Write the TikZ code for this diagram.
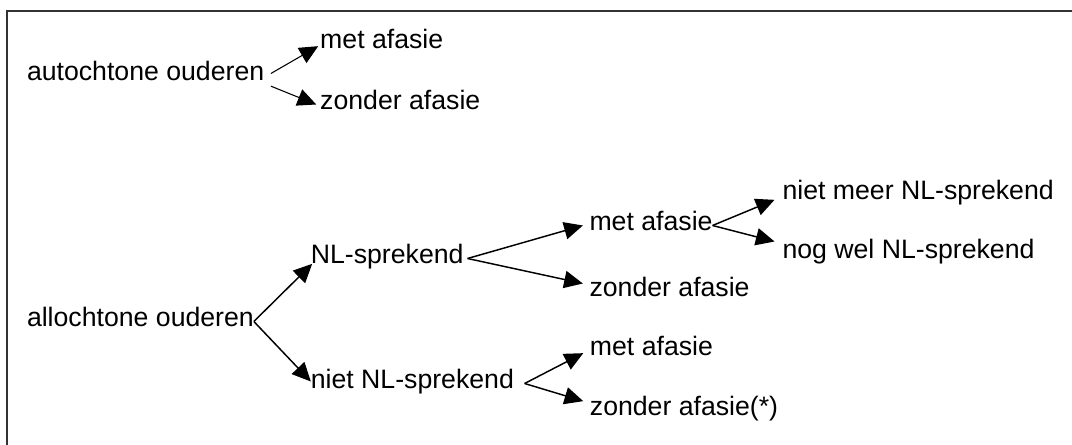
\documentclass[tikz,border=0pt]{standalone}
\usepackage{fontspec}
\setmainfont{Liberation Sans}
\usepackage{tikz}
\usetikzlibrary{arrows.meta,positioning}
\tikzstyle{txt} = [inner sep=0pt, outer sep=0pt, text height=0.716em, text depth=0pt, font=\fontsize{20}{24}\selectfont]
\tikzstyle{tedge} = [draw, line width=1.1pt, -{Triangle[length=14pt, width=13pt]}]
\tikzstyle{thin edge} = [draw, line width=0.8pt, -{Triangle[length=14pt, width=13pt]}]

\begin{document}
\begin{tikzpicture}[x=0.75pt, y=-0.75pt]
\useasboundingbox (0,0) rectangle (1072,445);

% frame
\draw[line width=1.3pt, black!80] (1072,11) -- (7,11) -- (7,445);

% autochtone =============================
\node[txt, anchor=west] (auto) at (27,75.5) {autochtone ouderen};
\node[txt, right=42pt of auto, yshift=24pt] (met1) {met afasie};
\node[txt, right=42pt of auto, yshift=-21.75pt] (zon1) {zonder afasie};

% allochtone =============================
\node[txt, anchor=west] (allo) at (27,321.5) {allochtone ouderen};
\node[txt, right=42.75pt of allo, yshift=47.25pt] (nl) {NL-sprekend};
\node[txt, right=42.75pt of allo, yshift=-46.5pt] (niet) {niet NL-sprekend};

% NL-sprekend
\node[txt, right=94.5pt of nl, yshift=24.75pt] (met2) {met afasie};
\node[txt, right=94.5pt of nl, yshift=-24.75pt] (zon2) {zonder afasie};
\node[txt, right=52.5pt of met2, yshift=23.25pt] (meer) {niet meer NL-sprekend};
\node[txt, right=52.5pt of met2, yshift=-21pt] (wel) {nog wel NL-sprekend};

% niet NL-sprekend
\node[txt, right=57pt of niet, yshift=24.75pt] (met3) {met afasie};
\node[txt, right=57pt of niet, yshift=-20.25pt] (zon3) {zonder afasie(*)};

%edges
\path[thin edge] ([xshift=5pt, yshift=1.5pt]auto.east) -- ([xshift=-1.5pt, yshift=-2pt]met1.west);
\path[thin edge] ([xshift=5pt, yshift=-8pt]auto.east) -- ([xshift=-3pt]zon1.west);

\path[tedge] (allo.east) -- ([xshift=1pt, yshift=-4pt]nl.west);
\path[tedge] (allo.east) -- ([yshift=1.5pt]niet.west);

\path[tedge] ([xshift=3pt]nl.east) -- ([xshift=-5pt]met2.west);
\path[tedge] ([xshift=3pt]nl.east) -- ([xshift=-5pt, yshift=6pt]zon2.west);

\path[tedge] (met2.east) -- ([xshift=-6pt, yshift=-4pt]meer.west);
\path[tedge] (met2.east) -- ([xshift=-6pt, yshift=9pt]wel.west);

\path[tedge] ([xshift=8pt]niet.east) -- ([xshift=-5pt, yshift=-2pt]met3.west);
\path[tedge] ([xshift=8pt]niet.east) -- ([xshift=-5pt, yshift=7pt]zon3.west);

\end{tikzpicture}
\end{document}
